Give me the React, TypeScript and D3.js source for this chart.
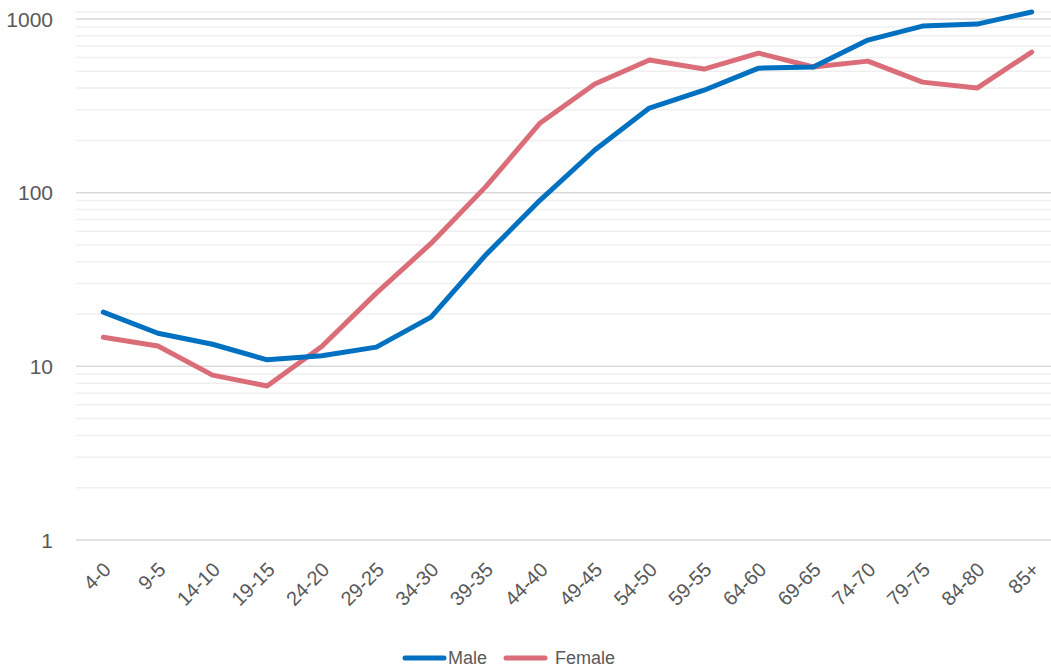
import React, { useEffect, useRef } from "react";
import * as d3 from "d3";

const ageGroups = [
  "4-0", "9-5", "14-10", "19-15", "24-20", "29-25", "34-30", "39-35", "44-40",
  "49-45", "54-50", "59-55", "64-60", "69-65", "74-70", "79-75", "84-80", "85+",
];
const maleValues = [
  20.5, 15.5, 13.4, 10.9, 11.5, 12.9, 19.2, 43.7, 90.6, 176, 307, 389, 521, 529, 756, 910, 935, 1097,
];
const femaleValues = [
  14.7, 13.1, 8.9, 7.7, 13.0, 26.4, 51, 108, 252, 422, 580, 515, 636, 529, 572, 433, 400, 645,
];
const yTicks = [1, 10, 100, 1000];

const width = 1051;
const height = 669;
const font = "'Liberation Sans', Arial, sans-serif";

const App = () => {
  const ref = useRef<SVGSVGElement>(null);

  useEffect(() => {
    const svg = d3.select(ref.current);
    svg.selectAll("*").remove();

    const left = 76;
    const right = 1059;
    const y = d3.scaleLog().domain([1, 1000]).range([540, 19]);
    const x = d3.scalePoint<string>().domain(ageGroups).range([left, right]).padding(0.5);

    // minor gridlines (2..9 per decade)
    const minor: number[] = [];
    [1, 10, 100].forEach((d) => {
      for (let k = 2; k <= 9; k++) minor.push(d * k);
    });
    svg
      .append("g")
      .selectAll("line")
      .data(minor)
      .enter()
      .append("line")
      .attr("x1", left)
      .attr("x2", width)
      .attr("y1", (d) => y(d))
      .attr("y2", (d) => y(d))
      .attr("stroke", "#efefef")
      .attr("stroke-width", 1.5);

    // top edge line
    svg
      .append("line")
      .attr("x1", left)
      .attr("x2", width)
      .attr("y1", 12)
      .attr("y2", 12)
      .attr("stroke", "#efefef")
      .attr("stroke-width", 1.5);

    // major gridlines
    svg
      .append("g")
      .selectAll("line")
      .data(yTicks)
      .enter()
      .append("line")
      .attr("x1", left)
      .attr("x2", width)
      .attr("y1", (d) => y(d))
      .attr("y2", (d) => y(d))
      .attr("stroke", "#d9d9d9")
      .attr("stroke-width", 1.5);

    // y labels
    svg
      .append("g")
      .selectAll("text")
      .data(yTicks)
      .enter()
      .append("text")
      .attr("x", 53)
      .attr("y", (d) => y(d))
      .attr("dy", "0.36em")
      .attr("text-anchor", "end")
      .attr("font-family", font)
      .attr("font-size", 21)
      .attr("fill", "#595959")
      .text((d) => String(d));

    // x labels, rotated
    svg
      .append("g")
      .selectAll("text")
      .data(ageGroups)
      .enter()
      .append("text")
      .attr("transform", (d) => `translate(${(x(d) as number) - 1},${561}) rotate(-45)`)
      .attr("text-anchor", "end")
      .attr("dy", "0.7em")
      .attr("font-family", font)
      .attr("font-size", 20)
      .attr("fill", "#595959")
      .text((d) => d);

    const line = d3
      .line<number>()
      .x((_, i) => x(ageGroups[i]) as number)
      .y((d) => y(d));

    const series = [
      { name: "Male", values: maleValues, color: "#0070c0" },
      { name: "Female", values: femaleValues, color: "#da6d78" },
    ];

    // female drawn first so male sits on top where they overlap
    [series[1], series[0]].forEach((s) => {
      svg
        .append("path")
        .datum(s.values)
        .attr("d", line)
        .attr("fill", "none")
        .attr("stroke", s.color)
        .attr("stroke-width", 5)
        .attr("stroke-linejoin", "round")
        .attr("stroke-linecap", "round");
    });

    // legend
    const legendX = [403, 504];
    const lg = svg.append("g");
    series.forEach((s, i) => {
      lg.append("line")
        .attr("x1", legendX[i] + 2)
        .attr("x2", legendX[i] + 41)
        .attr("y1", 658)
        .attr("y2", 658)
        .attr("stroke", s.color)
        .attr("stroke-width", 5)
        .attr("stroke-linecap", "round");
      lg.append("text")
        .attr("x", legendX[i] + (i === 0 ? 45 : 51))
        .attr("y", 658)
        .attr("dy", "0.36em")
        .attr("font-family", font)
        .attr("font-size", 18)
        .attr("fill", "#595959")
        .text(s.name);
    });
  }, []);

  return (
    <svg
      ref={ref}
      width={width}
      height={height}
      style={{ position: "absolute", left: 0, top: 0, background: "white" }}
    />
  );
};

export default App;
